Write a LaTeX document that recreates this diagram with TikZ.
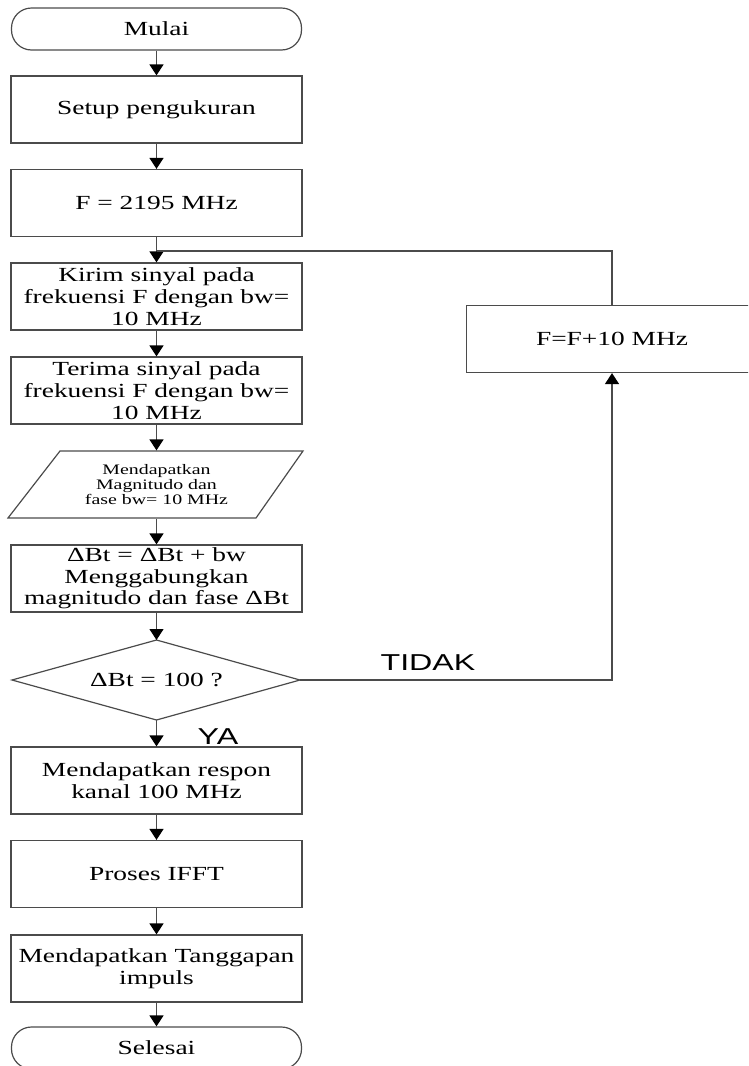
\documentclass[tikz,border=0pt]{standalone}
\usepackage{fontspec}
\setmainfont{Liberation Serif}[FakeStretch=1.37]
\newfontfamily\labelfont{Liberation Sans}[FakeStretch=1.4]
\usetikzlibrary{arrows.meta}
\definecolor{linegray}{RGB}{75,75,75}

\begin{document}
\begin{tikzpicture}[x=1pt,y=-1pt,line width=1.2pt,
  every node/.style={inner sep=0pt,align=center,text=black},
  boxfont/.style={font=\fontsize{20}{21.7}\selectfont},
  proc/.style={boxfont,draw=linegray,minimum width=291pt,minimum height=67pt},
  term/.style={boxfont,draw=linegray,rounded corners=20pt,minimum width=290pt,minimum height=42pt},
  iobox/.style={font=\fontsize{14.5}{15.4}\selectfont,minimum width=240pt,minimum height=67pt},
  answer/.style={font=\labelfont\fontsize{23}{23}\selectfont},
  flow/.style={draw=linegray,-{Triangle[width=14pt,length=11pt,color=black]}},
  link/.style={draw=linegray}]

\useasboundingbox (0,0) rectangle (748,1066);
\clip (0,0) rectangle (748,1066);

% main column
\node[term] (start)  at (156.5,29)    {Mulai};
\node[proc] (setup)  at (156.5,109.5) {Setup pengukuran};
\node[proc] (f0)     at (156.5,203)   {F = 2195 MHz};
\node[proc] (kirim)  at (156.5,296.5) {Kirim sinyal pada\\frekuensi F dengan bw=\\10 MHz};
\node[proc] (terima) at (156.5,390.5) {Terima sinyal pada\\frekuensi F dengan bw=\\10 MHz};

% input/output parallelogram
\node[iobox] (io)    at (156.5,484.5) {Mendapatkan\\Magnitudo dan\\fase bw= 10 MHz};
\draw[linegray] (60,451) -- (303,451) -- (256,518) -- (8,518) -- cycle;

\node[proc] (dbt)    at (156.5,578.5) {ΔBt = ΔBt + bw\\Menggabungkan\\magnitudo dan fase ΔBt};

% decision diamond
\coordinate (decT) at (156.5,640);
\coordinate (decR) at (300,680);
\coordinate (decB) at (156.5,720);
\coordinate (decL) at (12,680);
\draw[linegray] (decT) -- (decR) -- (decB) -- (decL) -- cycle;
\node[boxfont] (dec) at (156.5,680) {ΔBt = 100 ?};

\node[proc] (respon) at (156.5,780.5) {Mendapatkan respon\\kanal 100 MHz};
\node[proc] (ifft)   at (156.5,874)   {Proses IFFT};
\node[proc] (impuls) at (156.5,968.5) {Mendapatkan Tanggapan\\impuls};
\node[term] (stop)   at (156.5,1048)  {Selesai};

% loop branch
\node[proc] (inc) at (612,339) {F=F+10 MHz};
\coordinate (join) at (156.5,251);

% connectors
\draw[flow] (start) -- (setup);
\draw[flow] (setup) -- (f0);
\draw[flow] (f0) -- (kirim);
\draw[flow] (kirim) -- (terima);
\draw[flow] (terima) -- (io);
\draw[flow] (io) -- (dbt);
\draw[flow] (dbt) -- (decT);
\draw[flow] (decB) -- (respon);
\draw[flow] (respon) -- (ifft);
\draw[flow] (ifft) -- (impuls);
\draw[flow] (impuls) -- (stop);
\draw[flow] (decR) -| (inc.south);
\draw[link] (inc.north) |- (join);

% branch labels
\node[answer] (no)  at (428,663) {TIDAK};
\node[answer] (yes) at (218,737) {YA};
\end{tikzpicture}
\end{document}
